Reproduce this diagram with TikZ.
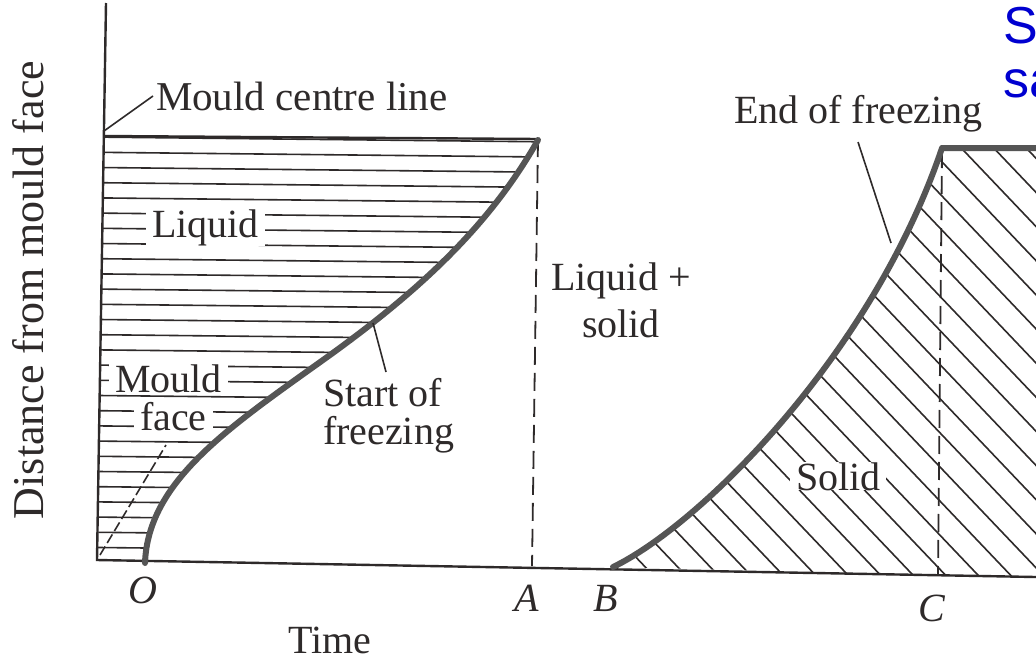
\documentclass[tikz,border=0pt]{standalone}
\usepackage{fontspec}
\setmainfont{Liberation Serif}
\newfontfamily\slidefont{Liberation Sans}
\definecolor{ink}{HTML}{2E2A2A}
\definecolor{curvegray}{HTML}{555555}
\definecolor{slideblue}{HTML}{0000D0}
\begin{document}
\begin{tikzpicture}[x=0.5pt,y=-0.5pt,
  every node/.style={inner sep=1.5pt, outer sep=0pt, text=ink, font=\fontsize{20}{22}\selectfont},
  axisline/.style={draw=ink, line width=1.2pt},
  hatchline/.style={draw=ink, line width=0.8pt},
  freezeline/.style={draw=curvegray, line width=3pt, line join=round, line cap=round},
  guide/.style={draw=ink, line width=0.9pt, dash pattern=on 9pt off 4pt},
  leader/.style={draw=ink, line width=0.8pt},
  gaplabel/.style={fill=white, inner xsep=3pt, inner ysep=0pt},
  pointlabel/.style={anchor=base, font=\itshape\fontsize{20}{22}\selectfont},
  slidetext/.style={anchor=base west, text=slideblue, font=\slidefont\fontsize{26}{28}\selectfont}]

\fill[white] (0,0) rectangle (1036,659);
\useasboundingbox (0,0) rectangle (1036,659);

% liquid region, horizontal hatching
\begin{scope}
\clip (104,136) -- (538,139) -- (538,140) .. controls (490,225) and (420,290) .. (330,355)
  .. controls (231,426) and (148,480) .. (145,563) -- (98,560) -- cycle;
\foreach \y in {137,152.2,...,556} \draw[hatchline] (90,\y) -- (560,\y+5);
\draw[hatchline, dash pattern=on 5pt off 2pt] (100,555) -- (166,445);
\end{scope}

% solid region, diagonal hatching
\begin{scope}
\clip (613,567) .. controls (700,525) and (872,355) .. (942,148) -- (1040,149) -- (1040,578) -- cycle;
\foreach \k in {-12,...,24} \draw[hatchline] (363+32.5*\k,100) -- ++(500,525);
\end{scope}

% axes and guide lines
\draw[axisline] (106,3) -- (97,560) -- (1036,577);
\draw[axisline] (104,136) -- (538,139);
\draw[guide] (538,139) -- (532,566);
\draw[guide] (942,150) -- (938,574);

% freezing curves
\draw[freezeline] (145,563) .. controls (148,480) and (231,426) .. (330,355)
  .. controls (420,290) and (490,225) .. (538,140);
\draw[freezeline] (613,567) .. controls (700,525) and (872,355) .. (942,148) -- (1036,148);

% labels
\node[anchor=base west, font=\fontsize{20.5}{22}\selectfont] (centrelbl) at (153,110) {Mould centre line};
\node[gaplabel, anchor=base west] (liquidlbl) at (146,237) {Liquid};
\node[gaplabel, anchor=base west] (mouldlbl) at (109,392) {Mould};
\node[gaplabel, anchor=base west] (facelbl) at (134,430) {face};
\node[anchor=north west, align=left, font=\fontsize{20}{19}\selectfont] (startlbl) at (320,375) {Start of\\freezing};
\node[anchor=north, align=center, font=\fontsize{20}{23.5}\selectfont] (mixlbl) at (621,260) {Liquid +\\solid};
\node[anchor=base west] (endlbl) at (731,123) {End of freezing};
\node[gaplabel, anchor=base west] (solidlbl) at (790,490) {Solid};

\node[pointlabel] (olbl) at (143,603) {O};
\node[pointlabel] (albl) at (527,611) {A};
\node[pointlabel] (blbl) at (606,611) {B};
\node[pointlabel] (clbl) at (932,621) {C};
\node[anchor=base] (timelbl) at (330,653) {Time};
\node[rotate=90, font=\fontsize{22}{24}\selectfont] (distlbl) at (28,290) {Distance from mould face};

\node[slidetext] (slideA) at (1000,43) {So};
\node[slidetext] (slideB) at (1000,97) {sa};

% leader lines
\coordinate (centretip) at (104,131);
\coordinate (starttip) at (373,323);
\coordinate (startfoot) at (386,372);
\coordinate (endfoot) at (858,142);
\coordinate (endtip) at (891,243);
\draw[leader] (centretip) -- (centrelbl.west);
\draw[leader] (starttip) -- (startfoot);
\draw[leader] (endfoot) -- (endtip);
\end{tikzpicture}
\end{document}
